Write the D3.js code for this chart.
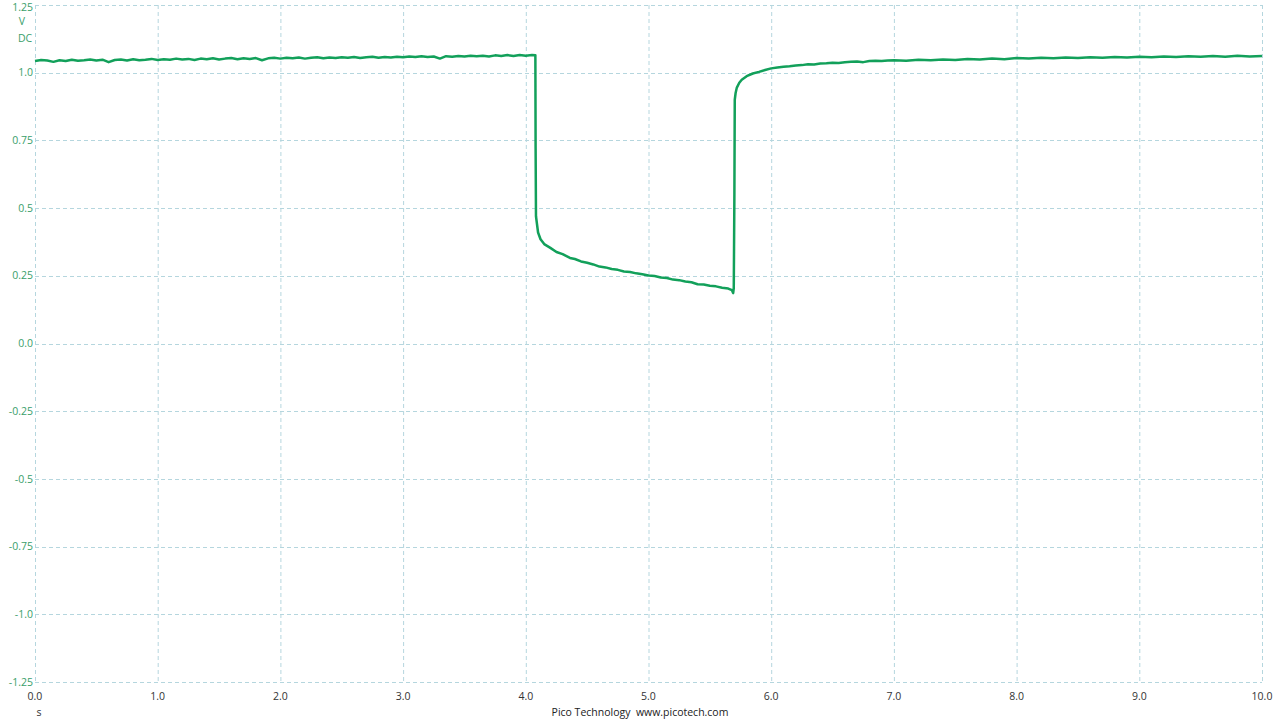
<!DOCTYPE html>
<html><head><meta charset="utf-8">
<script src="https://cdn.jsdelivr.net/npm/d3@7"></script>
<style>
html,body{margin:0;padding:0;background:#fff;}
svg{display:block;font-family:"Open Sans","DejaVu Sans",sans-serif;}
</style></head><body>
<svg id="c" width="1280" height="720"></svg>
<script>
// Tick labels
const xTicks = [0,1,2,3,4,5,6,7,8,9,10];
const yTicks = [1.25,1.0,0.75,0.5,0.25,0.0,-0.25,-0.5,-0.75,-1.0,-1.25];
const yTickLabels = ["1.25","1.0","0.75","0.5","0.25","0.0","-0.25","-0.5","-0.75","-1.0","-1.25"];
const xTickLabels = ["0.0","1.0","2.0","3.0","4.0","5.0","6.0","7.0","8.0","9.0","10.0"];

// Trace samples [time s, volts]
const preDrop = [
 [0.00,1.043],[0.05,1.047],[0.10,1.045],[0.15,1.040],[0.20,1.046],[0.25,1.043],[0.30,1.048],[0.35,1.044],
 [0.40,1.046],[0.45,1.049],[0.50,1.045],[0.55,1.048],[0.60,1.039],[0.65,1.047],[0.70,1.049],[0.75,1.045],
 [0.80,1.050],[0.85,1.046],[0.90,1.048],[0.95,1.051],[1.00,1.047],[1.05,1.050],[1.10,1.048],[1.15,1.052],
 [1.20,1.049],[1.25,1.051],[1.30,1.047],[1.35,1.052],[1.40,1.050],[1.45,1.053],[1.50,1.049],[1.55,1.052],
 [1.60,1.054],[1.65,1.050],[1.70,1.053],[1.75,1.051],[1.80,1.054],[1.85,1.046],[1.90,1.053],[1.95,1.055],
 [2.00,1.052],[2.05,1.055],[2.10,1.053],[2.15,1.056],[2.20,1.052],[2.25,1.055],[2.30,1.057],[2.35,1.053],
 [2.40,1.056],[2.45,1.054],[2.50,1.057],[2.55,1.055],[2.60,1.058],[2.65,1.054],[2.70,1.057],[2.75,1.059],
 [2.80,1.055],[2.85,1.058],[2.90,1.056],[2.95,1.059],[3.00,1.057],[3.05,1.060],[3.10,1.058],[3.15,1.061],
 [3.20,1.058],[3.25,1.060],[3.30,1.052],[3.35,1.061],[3.40,1.059],[3.45,1.062],[3.50,1.060],[3.55,1.063],
 [3.60,1.061],[3.65,1.063],[3.70,1.060],[3.75,1.064],[3.80,1.062],[3.85,1.065],[3.90,1.062],[3.95,1.065],
 [4.00,1.063],[4.05,1.065],[4.078,1.064]
];
const lowPhase = [
 [4.080,0.72],[4.083,0.47],[4.090,0.445],[4.10,0.41],[4.12,0.385],[4.15,0.367],[4.20,0.353],[4.25,0.338],
 [4.30,0.330],[4.36,0.316],[4.40,0.312],[4.45,0.303],[4.50,0.298],[4.55,0.292],[4.60,0.284],[4.65,0.281],
 [4.70,0.275],[4.75,0.272],[4.80,0.266],[4.85,0.264],[4.90,0.259],[4.95,0.256],[5.00,0.251],[5.05,0.249],
 [5.10,0.244],[5.15,0.242],[5.20,0.236],[5.25,0.234],[5.30,0.229],[5.35,0.226],[5.40,0.219],[5.45,0.218],
 [5.50,0.213],[5.55,0.211],[5.60,0.206],[5.65,0.203],[5.68,0.197],[5.69,0.186],[5.695,0.205]
];
const recovery = [
 [5.700,0.55],[5.703,0.90],[5.710,0.925],[5.72,0.945],[5.74,0.963],[5.76,0.974],[5.80,0.987],[5.85,0.997],
 [5.90,1.003],[5.95,1.010],[6.00,1.016],[6.05,1.019],[6.10,1.022],[6.15,1.024],[6.20,1.027],[6.25,1.028],
 [6.30,1.031],[6.35,1.030],[6.40,1.034],[6.45,1.035],[6.50,1.037],[6.55,1.036],[6.60,1.039],[6.65,1.040],
 [6.70,1.041],[6.75,1.039],[6.80,1.043],[6.85,1.044],[6.90,1.043],[6.95,1.045],[7.00,1.046],[7.10,1.044],
 [7.20,1.048],[7.30,1.046],[7.40,1.049],[7.50,1.047],[7.60,1.051],[7.70,1.049],[7.80,1.052],[7.90,1.050],
 [8.00,1.054],[8.10,1.052],[8.20,1.055],[8.30,1.053],[8.40,1.056],[8.50,1.054],[8.60,1.057],[8.70,1.055],
 [8.80,1.058],[8.90,1.056],[9.00,1.059],[9.10,1.057],[9.20,1.060],[9.30,1.058],[9.40,1.061],[9.50,1.059],
 [9.60,1.062],[9.70,1.059],[9.80,1.063],[9.90,1.060],[10.00,1.062]
];
const trace = preDrop.concat(lowPhase, recovery);

const svg = d3.select("#c");
const L = 35, R = 1262, T = 5, B = 682;
const x = d3.scaleLinear().domain([0,10]).range([L,R]);
const y = d3.scaleLinear().domain([-1.25,1.25]).range([B,T]);
const gridCol = "#b5d6de";

// grid
svg.append("g").selectAll("line").data(xTicks).join("line")
  .attr("x1",d=>x(d)+0.5).attr("x2",d=>x(d)+0.5).attr("y1",T).attr("y2",B)
  .attr("stroke",gridCol).attr("stroke-width",1).attr("stroke-dasharray","4,3");
svg.append("g").selectAll("line").data(yTicks).join("line")
  .attr("y1",d=>Math.round(y(d))+0.5).attr("y2",d=>Math.round(y(d))+0.5).attr("x1",L).attr("x2",R)
  .attr("stroke",gridCol).attr("stroke-width",1).attr("stroke-dasharray","4,3");

// y labels
svg.append("g").selectAll("text").data(yTicks).join("text")
  .attr("x",33).attr("y",d=>Math.max(y(d),7)).attr("dy","0.35em").attr("text-anchor","end")
  .attr("fill","#3a9e6a").attr("font-size",10.5).text((d,i)=>yTickLabels[i]);
svg.append("text").attr("x",22).attr("y",25).attr("text-anchor","middle").attr("fill","#3a9e6a").attr("font-size",10.5).text("V");
svg.append("text").attr("x",25).attr("y",42).attr("text-anchor","middle").attr("fill","#3a9e6a").attr("font-size",10.5).text("DC");

// x labels
svg.append("g").selectAll("text").data(xTicks).join("text")
  .attr("x",d=>x(d)).attr("y",700).attr("text-anchor","middle")
  .attr("fill","#333").attr("font-size",10.5).text((d,i)=>xTickLabels[i]);
svg.append("text").attr("x",39).attr("y",716).attr("text-anchor","middle").attr("fill","#333").attr("font-size",10.5).text("s");
svg.append("text").attr("x",640).attr("y",716).attr("text-anchor","middle").attr("fill","#222").attr("font-size",10.5)
  .attr("xml:space","preserve").text("Pico Technology  www.picotech.com");

// trace
const line = d3.line().x(d=>x(d[0])).y(d=>y(d[1]));
svg.append("path").datum(trace).attr("d",line).attr("fill","none")
  .attr("stroke","#12a05a").attr("stroke-width",2.5).attr("stroke-linejoin","round");
</script></body></html>
